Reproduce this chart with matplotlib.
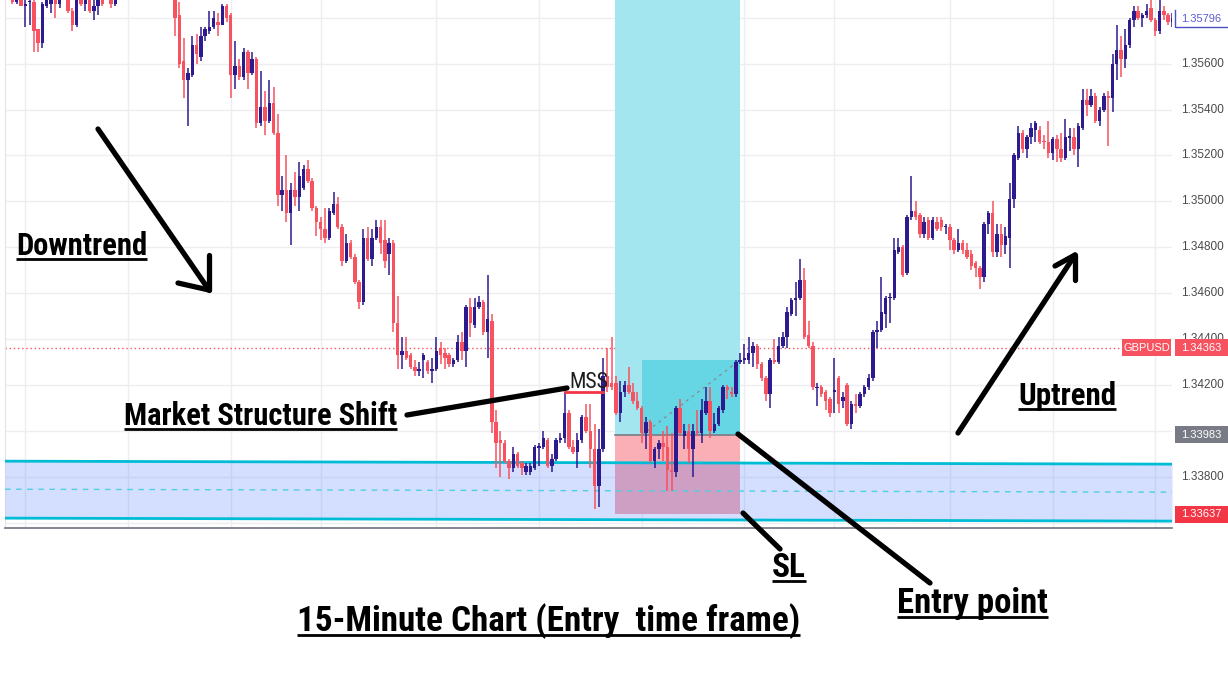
import matplotlib
matplotlib.use("Agg")
import matplotlib.pyplot as plt
import matplotlib.transforms as mtransforms
from matplotlib.patches import Rectangle
from matplotlib import font_manager
from matplotlib.font_manager import FontProperties
import numpy as np

# GBPUSD 15-minute candles
opens = [
    1.3589, 1.3587, 1.3589, 1.3585, 1.35868, 1.3587, 1.3575, 1.3569, 1.3585, 1.3586,
    1.3590, 1.3586, 1.3590, 1.3593, 1.3583, 1.3577, 1.3591, 1.3586, 1.3590, 1.3583,
    1.3585, 1.3591, 1.3589, 1.3593, 1.3586, 1.3590, 1.3596, 1.3601, 1.3598, 1.3605,
    1.3609, 1.3604, 1.3607, 1.3603, 1.3599, 1.3602, 1.3598, 1.3600, 1.3596, 1.3581,
    1.3561, 1.3553, 1.3555, 1.3568, 1.3563, 1.3572, 1.3574, 1.3576, 1.3578, 1.3577,
    1.3585, 1.3581, 1.3555, 1.3559, 1.3554, 1.3565, 1.3556, 1.3562, 1.3534, 1.3541,
    1.3535, 1.3543, 1.3530, 1.3503, 1.3505, 1.3495, 1.3505, 1.3502, 1.3506, 1.3514,
    1.3509, 1.3497, 1.3491, 1.3488, 1.3484, 1.3495, 1.3499, 1.3489, 1.3474, 1.3482,
    1.3476, 1.3465, 1.3456, 1.3484, 1.3475, 1.3484, 1.3489, 1.3483, 1.3477, 1.3482,
    1.3447, 1.3433, 1.3435, 1.3433, 1.3428, 1.3426, 1.3431, 1.3430, 1.3426, 1.3427,
    1.3436, 1.3434, 1.3433, 1.3429, 1.3431, 1.3439, 1.3435, 1.3454, 1.3446, 1.3454,
    1.3456, 1.3443, 1.3448, 1.3404, 1.3396, 1.3395, 1.3387, 1.3384, 1.3390, 1.3386,
    1.3382, 1.3382, 1.3384, 1.33928, 1.3393, 1.3396, 1.3385, 1.3388, 1.3396, 1.3397,
    1.3408, 1.3393, 1.3391, 1.3396, 1.3406, 1.3400, 1.3392, 1.3376, 1.3392, 1.3424,
    1.3421, 1.3421, 1.3408, 1.3417, 1.3420, 1.3417, 1.3413, 1.3410, 1.3399, 1.3404,
    1.3387, 1.3392, 1.3395, 1.3393, 1.3383, 1.3382, 1.3410, 1.3398, 1.3400, 1.3392,
    1.3400, 1.3399, 1.3408, 1.3413, 1.3400, 1.3403, 1.3409, 1.3419, 1.3417, 1.3416,
    1.3430, 1.3431, 1.3431, 1.3434, 1.3437, 1.3429, 1.3423, 1.3416, 1.3431, 1.3430,
    1.3437, 1.3441, 1.3451, 1.3457, 1.3458, 1.3466, 1.3442, 1.3437, 1.34188, 1.3419,
    1.3417, 1.3414, 1.3417, 1.3423, 1.3413, 1.3420, 1.3403, 1.3412, 1.3411, 1.3416,
    1.3419, 1.3423, 1.3443, 1.3444, 1.3451, 1.34578, 1.3458, 1.3478, 1.3480, 1.3469,
    1.3493, 1.3496, 1.3494, 1.3486, 1.3492, 1.3484, 1.3491, 1.3492, 1.34888, 1.3489,
    1.3483, 1.3479, 1.3482, 1.3479, 1.3477, 1.3473, 1.3471, 1.3467, 1.3490, 1.3495,
    1.3478, 1.3486, 1.3481, 1.3484, 1.3501, 1.3519, 1.3530, 1.3523, 1.3528, 1.3531,
    1.3531, 1.35262, 1.3526, 1.3521, 1.3527, 1.3523, 1.3519, 1.35278, 1.3528, 1.3523,
    1.3532, 1.3544, 1.3542, 1.3546, 1.3535, 1.3540, 1.3546, 1.3545, 1.3560, 1.3566,
    1.3562, 1.3568, 1.3579, 1.3583, 1.3580, 1.3581, 1.3584, 1.3579, 1.3574, 1.3583,
    1.3581, 1.3578,
]
highs = [
    1.3590, 1.3590, 1.3590, 1.3588, 1.3588, 1.3588, 1.3575, 1.3587, 1.3590, 1.3591,
    1.3592, 1.3592, 1.3596, 1.3595, 1.3584, 1.3591, 1.3593, 1.3591, 1.3592, 1.3588,
    1.3592, 1.3593, 1.3595, 1.3595, 1.3592, 1.3598, 1.3603, 1.3604, 1.3607, 1.3612,
    1.3611, 1.3609, 1.3609, 1.3605, 1.3604, 1.3603, 1.3602, 1.3601, 1.3598, 1.3587,
    1.3571, 1.3558, 1.3572, 1.3573, 1.3576, 1.3576, 1.3583, 1.3583, 1.3582, 1.3586,
    1.3586, 1.3582, 1.3570, 1.3562, 1.3567, 1.3566, 1.3565, 1.3563, 1.3557, 1.3548,
    1.3553, 1.3550, 1.3538, 1.3511, 1.3520, 1.3508, 1.3513, 1.3517, 1.3516, 1.3518,
    1.3510, 1.3498, 1.3493, 1.3497, 1.3497, 1.3504, 1.3502, 1.3490, 1.3486, 1.3483,
    1.3477, 1.3466, 1.3488, 1.3489, 1.3488, 1.3492, 1.3492, 1.3492, 1.3484, 1.3483,
    1.3459, 1.3441, 1.3441, 1.3434, 1.3431, 1.3430, 1.3434, 1.3431, 1.3432, 1.3441,
    1.3439, 1.3436, 1.3434, 1.3432, 1.3442, 1.3443, 1.3455, 1.3458, 1.3458, 1.3459,
    1.3457, 1.3468, 1.3451, 1.3409, 1.3400, 1.3396, 1.3388, 1.3393, 1.3391, 1.3387,
    1.3386, 1.3386, 1.3394, 1.3395, 1.3400, 1.3397, 1.3390, 1.3397, 1.3399, 1.3417,
    1.3409, 1.3396, 1.3399, 1.3407, 1.3412, 1.3412, 1.3403, 1.3401, 1.3432, 1.3436,
    1.3441, 1.3424, 1.3422, 1.3422, 1.3428, 1.3421, 1.3417, 1.3411, 1.3406, 1.3405,
    1.3393, 1.3396, 1.3400, 1.3402, 1.3399, 1.3411, 1.3414, 1.3403, 1.3403, 1.3403,
    1.3409, 1.3414, 1.3419, 1.3419, 1.3408, 1.3411, 1.3420, 1.3420, 1.3419, 1.3431,
    1.3434, 1.3438, 1.3441, 1.3439, 1.3438, 1.3430, 1.3424, 1.3432, 1.3440, 1.3441,
    1.3443, 1.3454, 1.3458, 1.3465, 1.3475, 1.3471, 1.3448, 1.3439, 1.3421, 1.3420,
    1.3418, 1.3415, 1.3432, 1.3424, 1.3417, 1.3421, 1.3413, 1.3416, 1.3417, 1.3420,
    1.3425, 1.3444, 1.3448, 1.3467, 1.3459, 1.3460, 1.3484, 1.3484, 1.3481, 1.3494,
    1.3511, 1.3500, 1.3495, 1.3493, 1.3493, 1.3493, 1.3493, 1.3493, 1.3490, 1.3490,
    1.3484, 1.3488, 1.3483, 1.3482, 1.3479, 1.3474, 1.3472, 1.3491, 1.3496, 1.3500,
    1.3490, 1.3490, 1.3489, 1.3508, 1.3521, 1.3533, 1.3531, 1.3529, 1.3534, 1.3535,
    1.3533, 1.3529, 1.3535, 1.3528, 1.3529, 1.3530, 1.3536, 1.3532, 1.3532, 1.3534,
    1.3549, 1.3549, 1.3549, 1.3547, 1.3541, 1.3547, 1.3548, 1.3564, 1.3577, 1.3572,
    1.3575, 1.3580, 1.3585, 1.3585, 1.3582, 1.3586, 1.3588, 1.3580, 1.3589, 1.3585,
    1.3582, 1.3582,
]
lows = [
    1.3586, 1.3586, 1.3585, 1.3576, 1.3577, 1.3565, 1.3565, 1.3567, 1.3584, 1.3582,
    1.3580, 1.3584, 1.3589, 1.3582, 1.3574, 1.3576, 1.3585, 1.3583, 1.3582, 1.3579,
    1.3581, 1.3585, 1.3589, 1.3584, 1.3585, 1.3589, 1.3594, 1.3596, 1.3597, 1.3603,
    1.3602, 1.3601, 1.3600, 1.3597, 1.3596, 1.3595, 1.3594, 1.3592, 1.3572, 1.3558,
    1.3545, 1.3533, 1.3554, 1.3560, 1.3561, 1.3570, 1.3573, 1.3575, 1.3572, 1.3577,
    1.3578, 1.3545, 1.3549, 1.3553, 1.3553, 1.3549, 1.3555, 1.3532, 1.3533, 1.3529,
    1.3534, 1.3529, 1.3498, 1.3496, 1.3491, 1.3481, 1.3498, 1.3496, 1.3505, 1.3508,
    1.3496, 1.3485, 1.3483, 1.3482, 1.3483, 1.3494, 1.3488, 1.3472, 1.3473, 1.3475,
    1.3464, 1.3453, 1.3455, 1.3474, 1.3472, 1.3483, 1.3477, 1.3471, 1.3468, 1.3443,
    1.3427, 1.3427, 1.3431, 1.3427, 1.3424, 1.3424, 1.3423, 1.3425, 1.3421, 1.3426,
    1.3429, 1.3427, 1.3428, 1.3428, 1.3430, 1.3431, 1.3428, 1.3441, 1.3445, 1.3453,
    1.3442, 1.3432, 1.3399, 1.3384, 1.3380, 1.3386, 1.3379, 1.3382, 1.3384, 1.3381,
    1.3381, 1.3381, 1.3383, 1.3385, 1.3392, 1.3384, 1.3382, 1.3387, 1.3395, 1.3395,
    1.3392, 1.3390, 1.3384, 1.3395, 1.3399, 1.3384, 1.3366, 1.3367, 1.3391, 1.3417,
    1.3418, 1.3407, 1.3404, 1.3415, 1.3416, 1.3412, 1.3409, 1.3395, 1.3392, 1.3386,
    1.3384, 1.3388, 1.3387, 1.3374, 1.3374, 1.3380, 1.3398, 1.3392, 1.3386, 1.3380,
    1.3398, 1.3395, 1.3407, 1.3397, 1.3399, 1.3402, 1.3408, 1.3414, 1.3415, 1.3415,
    1.3429, 1.3429, 1.3429, 1.3428, 1.3427, 1.3422, 1.3413, 1.3410, 1.3429, 1.3429,
    1.3436, 1.3436, 1.3450, 1.3450, 1.3457, 1.3440, 1.3436, 1.3418, 1.3411, 1.3415,
    1.3409, 1.3406, 1.3408, 1.3408, 1.3410, 1.3402, 1.3401, 1.3408, 1.3410, 1.3415,
    1.3418, 1.3422, 1.3436, 1.3443, 1.3445, 1.3447, 1.3457, 1.3477, 1.3467, 1.3468,
    1.3492, 1.3492, 1.3484, 1.3484, 1.3483, 1.3483, 1.3487, 1.3487, 1.3486, 1.3479,
    1.3477, 1.3478, 1.3477, 1.3475, 1.3470, 1.3467, 1.3462, 1.3465, 1.3486, 1.3476,
    1.3476, 1.3476, 1.3477, 1.3471, 1.3497, 1.3518, 1.3521, 1.3519, 1.3525, 1.3526,
    1.3525, 1.3523, 1.3519, 1.3518, 1.3517, 1.3517, 1.3518, 1.3522, 1.3520, 1.3515,
    1.3531, 1.3537, 1.3541, 1.3534, 1.3533, 1.3539, 1.3524, 1.3539, 1.3553, 1.3554,
    1.3558, 1.3567, 1.3576, 1.3579, 1.3576, 1.3580, 1.3578, 1.3572, 1.3573, 1.3579,
    1.3577, 1.3576,
]
closes = [
    1.3587, 1.3588, 1.3585, 1.3586, 1.35872, 1.3574, 1.3569, 1.3586, 1.3589, 1.3589,
    1.3586, 1.3590, 1.3594, 1.3583, 1.3577, 1.3590, 1.3586, 1.3589, 1.3583, 1.3585,
    1.3590, 1.3586, 1.3593, 1.3586, 1.3590, 1.3596, 1.3601, 1.3598, 1.3605, 1.3609,
    1.3604, 1.3607, 1.3603, 1.3599, 1.3602, 1.3598, 1.3600, 1.3596, 1.3580, 1.3560,
    1.3553, 1.3556, 1.3568, 1.3564, 1.3572, 1.3575, 1.3576, 1.3580, 1.3577, 1.3585,
    1.3580, 1.3555, 1.3559, 1.3554, 1.3565, 1.3556, 1.3562, 1.3534, 1.3541, 1.3535,
    1.3543, 1.3530, 1.3503, 1.3505, 1.3495, 1.3505, 1.3502, 1.3511, 1.3514, 1.3509,
    1.3497, 1.3491, 1.3488, 1.3484, 1.3496, 1.3499, 1.3489, 1.3474, 1.3482, 1.3476,
    1.3465, 1.3456, 1.3484, 1.3475, 1.3484, 1.3489, 1.3482, 1.3474, 1.3482, 1.3447,
    1.3433, 1.3435, 1.3432, 1.3428, 1.3426, 1.3427, 1.3433, 1.3426, 1.3427, 1.3435,
    1.3433, 1.3432, 1.3429, 1.3431, 1.3439, 1.3435, 1.3454, 1.3447, 1.3454, 1.3456,
    1.3443, 1.3449, 1.3404, 1.3395, 1.3395, 1.3387, 1.3384, 1.3390, 1.3385, 1.3384,
    1.3385, 1.3385, 1.3393, 1.33932, 1.3397, 1.3385, 1.3388, 1.3396, 1.3397, 1.3408,
    1.3393, 1.3391, 1.3396, 1.3406, 1.3400, 1.3392, 1.3376, 1.3392, 1.3424, 1.3419,
    1.3419, 1.3408, 1.3417, 1.3420, 1.3417, 1.3413, 1.3410, 1.3399, 1.3404, 1.3387,
    1.3392, 1.3395, 1.3393, 1.3383, 1.3382, 1.3410, 1.3399, 1.3400, 1.3392, 1.3400,
    1.3399, 1.3409, 1.3413, 1.3400, 1.3403, 1.3410, 1.3419, 1.3418, 1.3416, 1.3430,
    1.3431, 1.3432, 1.3434, 1.3437, 1.3429, 1.3423, 1.3416, 1.3431, 1.3430, 1.3437,
    1.3441, 1.3452, 1.3457, 1.3458, 1.3466, 1.3441, 1.3437, 1.3419, 1.34192, 1.3416,
    1.3413, 1.3408, 1.3418, 1.3412, 1.3415, 1.3403, 1.3412, 1.3411, 1.3416, 1.3419,
    1.3423, 1.3443, 1.3444, 1.3452, 1.3458, 1.34582, 1.3479, 1.3480, 1.3468, 1.3493,
    1.3496, 1.3493, 1.3486, 1.3491, 1.3484, 1.3492, 1.3488, 1.3489, 1.34892, 1.3483,
    1.3479, 1.3482, 1.3479, 1.3476, 1.3472, 1.3471, 1.3467, 1.3490, 1.3495, 1.3478,
    1.3486, 1.3481, 1.3485, 1.3501, 1.3520, 1.3530, 1.3523, 1.3528, 1.3532, 1.3534,
    1.3526, 1.35258, 1.3521, 1.3527, 1.3523, 1.3519, 1.3528, 1.35282, 1.3523, 1.3533,
    1.3544, 1.3542, 1.3546, 1.3535, 1.3540, 1.3546, 1.3545, 1.3560, 1.3566, 1.3562,
    1.3568, 1.3579, 1.3583, 1.3580, 1.3581, 1.3583, 1.3579, 1.3574, 1.3583, 1.3581,
    1.3578, 1.3580,
]

price_ticks = [1.336, 1.338, 1.340, 1.342, 1.344, 1.346, 1.348, 1.350,
               1.352, 1.354, 1.356, 1.358]
# scale labels that are not hidden behind a price tag
price_labels = [1.338, 1.342, 1.344, 1.346, 1.348, 1.350, 1.352, 1.354, 1.356]
time_ticks = [3, 27, 51, 72, 99, 123, 147, 171, 192, 219, 243, 267]

last_price = 1.34363
live_price = 1.35796
entry_price = 1.33983
stop_price = 1.33637
target_price = 1.3600
reached_price = 1.3431
mss_price = 1.3417

zone_top = [1.33869, 1.33856]
zone_mid = [1.33747, 1.33734]
zone_bottom = [1.33621, 1.33608]

W, H = 1228, 688
UP = "#2b1b8f"
DOWN = "#f7525f"


def pick_font(bold):
    # look for a narrow/condensed face, fall back to whatever is closest
    best, best_score = None, -1
    for f in font_manager.fontManager.ttflist:
        nm = f.name.lower()
        st = str(f.stretch).lower()
        w = f.weight if isinstance(f.weight, int) else {"bold": 700, "normal": 400, "regular": 400}.get(str(f.weight).lower(), 400)
        if f.style != "normal":
            continue
        narrow = ("narrow" in nm or "condensed" in nm or "condensed" in st
                  or (st.isdigit() and int(st) < 500))
        if not narrow:
            continue
        score = 0
        if "liberation sans narrow" in nm:
            score += 50
        elif "roboto" in nm:
            score += 40
        elif "dejavu" in nm:
            score += 30
        elif "noto sans" in nm:
            score += 20
        if "extra" in st or "ultra" in st or "extra" in nm:
            score -= 15
        if "semi" in st or "semi" in nm:
            score -= 5
        if (w >= 600) == bold:
            score += 100
        if score > best_score:
            best, best_score = f, score
    if best is None or ((best.weight if isinstance(best.weight, int) else 400) >= 600) != bold and best_score < 100:
        return FontProperties(family="DejaVu Sans", weight="bold" if bold else "normal")
    return FontProperties(fname=best.fname)


BOLD_NARROW = pick_font(True)
REG_NARROW = pick_font(False)
names = {f.name for f in font_manager.fontManager.ttflist}
AXFONT = "Liberation Sans" if "Liberation Sans" in names else "DejaVu Sans"

fig = plt.figure(figsize=(W / 100, H / 100), dpi=100)
fig.patch.set_facecolor("white")

ax = fig.add_axes([5 / W, 1 - 528 / H, 1167 / W, 528 / H])
x_left, x_right = -1.75, 270.9
ax.set_xlim(x_left, x_right)
ax.set_ylim(1.33578, 1.35877)

ax.set_xticks(time_ticks)
ax.set_yticks(price_ticks)
ax.set_xticklabels([])
ax.set_yticklabels([])
ax.tick_params(length=0)
ax.grid(True, color="#eceef2", lw=1)
ax.set_axisbelow(True)
for s in ["top", "right"]:
    ax.spines[s].set_visible(False)
ax.spines["left"].set_color("#e2e4ea")
ax.spines["bottom"].set_color("#70737d")
ax.spines["bottom"].set_linewidth(1.2)

# current price line
ax.axhline(last_price, color=DOWN, lw=1, ls=(0, (1, 2)), zorder=1.5)

# long position tool
pos_start, pos_fill, pos_end = 140.8, 147.1, 170.0
ax.fill_between([pos_start, pos_end], entry_price, target_price, color="#a4e6ef", lw=0, zorder=2)
ax.fill_between([pos_fill, pos_end], entry_price, reached_price, color="#66d6e4", lw=0, zorder=2.1)
ax.fill_between([pos_start, pos_end], stop_price, entry_price, color="#f9afb5", lw=0, zorder=2)
ax.plot([pos_start, pos_end], [entry_price, entry_price], color="#787b86", lw=1.2, zorder=2.2)
ax.plot([pos_fill, pos_end], [entry_price, reached_price], color="#8a8d96", lw=1,
        ls=(0, (2, 3)), zorder=2.3)

# demand zone
zx = [x_left, x_right]
ax.fill_between(zx, zone_bottom, zone_top, color="#2962ff", alpha=0.2, lw=0, zorder=3)
ax.plot(zx, zone_top, color="#00bcd4", lw=2, zorder=3.1)
ax.plot(zx, zone_bottom, color="#00bcd4", lw=2, zorder=3.1)
ax.plot(zx, zone_mid, color="#4dd0e1", lw=1, ls=(0, (4, 4)), zorder=3.1)

# candles
o = np.array(opens)
h = np.array(highs)
l = np.array(lows)
c = np.array(closes)
idx = np.arange(len(o))
colors = np.where(c >= o, UP, DOWN)
ax.vlines(idx, l, h, colors=colors, lw=1.1, zorder=4)
body_low = np.minimum(o, c)
body_h = np.maximum(np.abs(c - o), 0.00005)
ax.bar(idx, body_h, bottom=body_low, width=0.8, color=colors, lw=0, zorder=5)

# MSS marker
ax.plot([129.1, 138.0], [mss_price, mss_price], color="#f23645", lw=2, zorder=6)
mss_t = ax.text(130.0, mss_price + 0.00017, "MSS", fontproperties=REG_NARROW, fontsize=16,
                color="#1e1e1e", va="baseline", ha="left", zorder=7)

# right price scale
lab_tr = mtransforms.blended_transform_factory(fig.transFigure, ax.transData)
for p in price_labels:
    ax.text(1181 / W, p, f"{p:.5f}", transform=lab_tr, ha="left", va="center",
            fontsize=8.5, family=AXFONT, color="#4a4a4a", clip_on=False, zorder=8)

half = 0.00037


def price_box(x0, x1, price, face, label, tcolor="white"):
    ax.add_patch(Rectangle((x0 / W, price - half), (x1 - x0) / W, 2 * half,
                           transform=lab_tr, facecolor=face, edgecolor="none",
                           clip_on=False, zorder=10))
    ax.text((x0 + x1) / 2 / W, price, label, transform=lab_tr, ha="center", va="center",
            color=tcolor, fontsize=8, family=AXFONT, clip_on=False, zorder=11)


price_box(1122, 1171, last_price, "#f7525f", "GBPUSD")
price_box(1175, 1228, last_price, "#f7525f", f"{last_price:.5f}")
price_box(1175, 1228, entry_price, "#787b86", f"{entry_price:.5f}")
price_box(1175, 1228, stop_price, "#f23645", f"{stop_price:.5f}")
price_box(1175, 1228, live_price, "white", f"{live_price:.5f}", tcolor="#5b5ecf")
ax.plot([1175 / W, 1175 / W, 1.0], [live_price + half, live_price - half, live_price - half],
        transform=lab_tr, color="#4b4fc4", lw=1, clip_on=False, zorder=11)

# hand-drawn annotations, in pixel space
ov = fig.add_axes([0, 0, 1, 1], zorder=10)
ov.set_xlim(0, W)
ov.set_ylim(H, 0)
ov.axis("off")


def stroke(xs, ys):
    ov.plot(xs, ys, color="black", lw=3.8, solid_capstyle="round", solid_joinstyle="round")


stroke([98, 209], [129, 290])
stroke([178, 209], [283, 290])
stroke([209, 209], [255, 290])
stroke([958, 1075], [433, 255])
stroke([1055, 1075], [266, 255])
stroke([1075, 1075], [280, 255])
stroke([407, 567], [415, 388])
stroke([738, 930], [434, 583])
stroke([743, 780], [513, 549])

# text, left x, baseline y, target width (px)
notes = [
    ("Downtrend", 16, 255, 131),
    ("Market Structure Shift", 124, 425, 273),
    ("Uptrend", 1018, 405, 98),
    ("SL", 772, 577, 34),
    ("Entry point", 897, 613, 151),
    ("15-Minute Chart (Entry  time frame)", 297, 631, 503),
]
texts = []
for s, x, yb, wpx in notes:
    t = ov.text(x, yb, s, fontproperties=BOLD_NARROW, fontsize=22,
                color="black", ha="left", va="baseline")
    texts.append((t, yb, wpx))

fig.canvas.draw()
for t, yb, wpx in texts:
    bb = t.get_window_extent()
    t.set_fontsize(22 * wpx / bb.width)
mb = mss_t.get_window_extent()
mss_t.set_fontsize(16 * 39 / mb.width)

fig.canvas.draw()
for t, yb, wpx in texts:
    bb = t.get_window_extent()
    ov.plot([bb.x0, bb.x1], [yb + 4, yb + 4], color="black", lw=2, solid_capstyle="butt")

fig.savefig("out.png", dpi=100, facecolor="white")
